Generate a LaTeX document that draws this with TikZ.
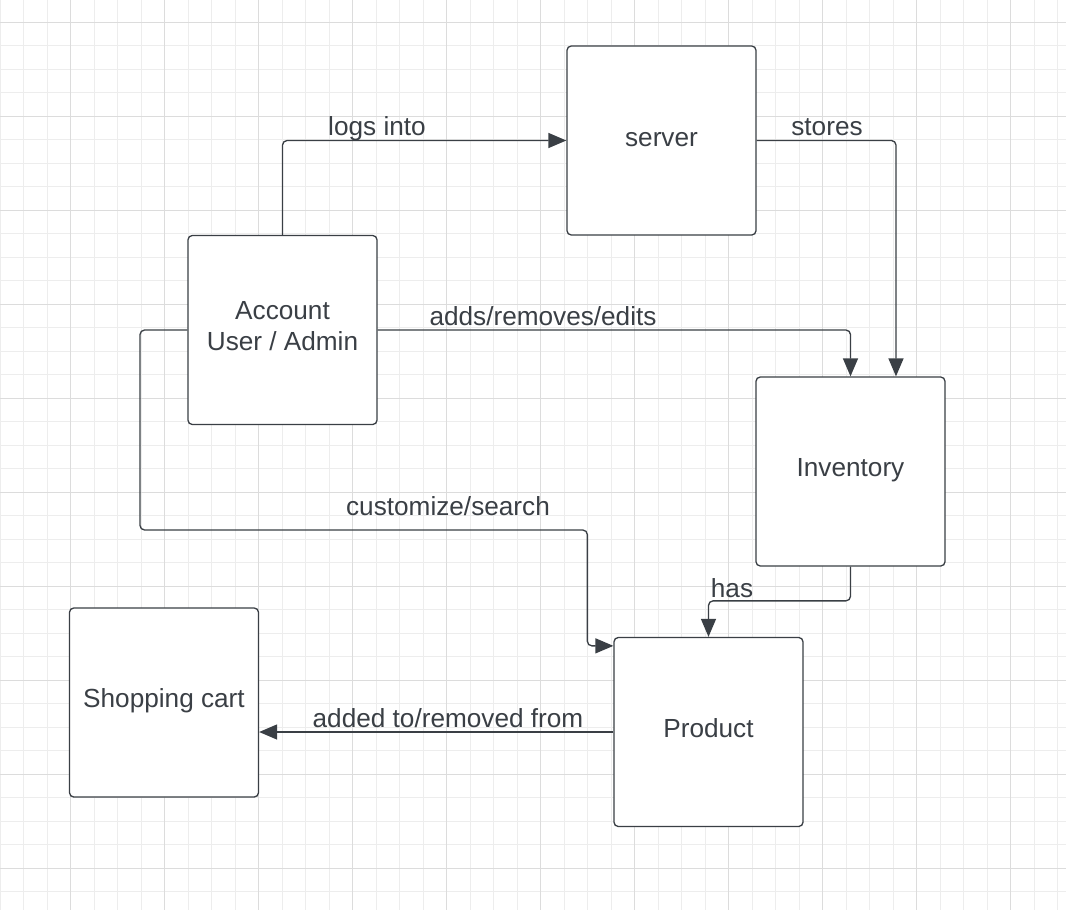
\documentclass[tikz,border=0pt]{standalone}
\usepackage{fontspec}
\setmainfont{Liberation Sans}
\usepackage{tikz}
\usetikzlibrary{positioning,arrows.meta,calc}
\definecolor{ink}{HTML}{3A3F45}
\definecolor{gridminor}{HTML}{EDEDED}
\definecolor{gridmajor}{HTML}{DCDCDC}

\begin{document}
\begin{tikzpicture}[
  x=0.02cm, y=-0.02cm,
  font=\fontsize{14.9}{17.6}\selectfont,
  block/.style={draw=ink, fill=white, rounded corners=2.4pt, align=center,
    text=ink, line width=0.75pt, minimum width=3.78cm, minimum height=3.78cm,
    inner sep=0pt, text depth=4.6pt},
  lbl/.style={text=ink, inner sep=1pt},
  arr/.style={-{Triangle[length=3.6mm, width=3.0mm]}, draw=ink,
    line width=0.75pt, rounded corners=2.6pt}
]
\useasboundingbox (0,0) rectangle (1066,910);
\fill[white] (0,0) rectangle (1066,910);
% background grid
\foreach \gx in {0,23.5,...,1066} \draw[gridminor, line width=0.5pt] (\gx,0) -- (\gx,910);
\foreach \gy in {-1.2,22.3,...,910} \draw[gridminor, line width=0.5pt] (0,\gy) -- (1066,\gy);
\foreach \gx in {-23.7,70.3,...,1066} \draw[gridmajor, line width=0.5pt] (\gx,0) -- (\gx,910);
\foreach \gy in {22.3,116.3,...,910} \draw[gridmajor, line width=0.5pt] (0,\gy) -- (1066,\gy);

% blocks
\node[block, text depth=1.3pt] (server) at (661.5,140.5) {server};
\node[block, text depth=4.2pt] (acct) at (282.5,330) {Account\\User / Admin};
\node[block] (inv) at (850.5,471.5) {Inventory};
\node[block] (prod) at (708.5,732) {Product};
\node[block] (cart) at (164,702.5) {Shopping cart};

% connectors
\draw[arr] (acct.north) |- (server.west);
\draw[arr] (server.east) -| ([xshift=0.91cm]inv.north);
\draw[arr] (acct.east) -| (inv.north);
\draw[arr] (acct.west) -| (140,530) -| ($(prod.north west)+(-26,9)$) -- ($(prod.north west)+(0,9)$);
\draw[arr] (inv.south) |- ($(prod.north)+(0,-36)$) -- (prod.north);
\draw[arr] (prod.west) -- (cart.east |- prod.west);

% labels
\node[lbl] (lLogs) at (377,129) {logs into};
\node[lbl] (lStores) at (827,127) {stores};
\node[lbl] (lEdits) at (543,316) {adds/removes/edits};
\node[lbl] (lSearch) at (448,506) {customize/search};
\node[lbl] (lHas) at (732,588) {has};
\node[lbl] (lAdded) at (448,718) {added to/removed from};
\end{tikzpicture}
\end{document}
